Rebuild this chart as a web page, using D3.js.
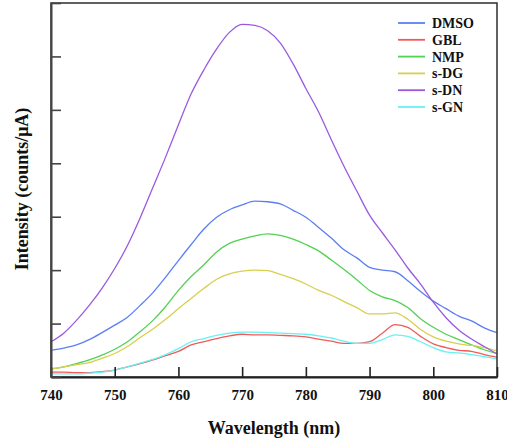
<!DOCTYPE html>
<html>
<head>
<meta charset="utf-8">
<script src="https://cdn.jsdelivr.net/npm/d3@7"></script>
<style>
  html, body { margin: 0; padding: 0; background: #fff; }
  svg { display: block; }
  svg text { font-family: "Liberation Serif", "Times New Roman", Times, "DejaVu Serif", serif; font-weight: bold; fill: #111; }
</style>
</head>
<body>
<svg id="chart" width="507" height="440"></svg>
<script>
// Emission spectra, wavelength grid in nm
const wavelengths = d3.range(740, 811, 2);

const seriesNames = ["DMSO", "GBL", "NMP", "s-DG", "s-DN", "s-GN"];
const seriesColors = ["#5b7ff2", "#f25a5a", "#52d152", "#d6d04e", "#9a5adf", "#66f2f2"];

const dmso = [0.50, 0.54, 0.60, 0.70, 0.83, 0.97, 1.12, 1.34, 1.58, 1.87, 2.18, 2.48, 2.77, 2.99, 3.13, 3.22, 3.29, 3.28,
              3.24, 3.12, 2.99, 2.80, 2.60, 2.38, 2.23, 2.05, 2.00, 1.97, 1.80, 1.60, 1.42, 1.28, 1.14, 1.05, 0.92, 0.83];
const gbl  = [0.09, 0.09, 0.08, 0.08, 0.10, 0.13, 0.19, 0.25, 0.32, 0.40, 0.48, 0.60, 0.66, 0.72, 0.77, 0.80, 0.79, 0.79,
              0.78, 0.77, 0.75, 0.71, 0.67, 0.63, 0.63, 0.66, 0.82, 0.98, 0.93, 0.76, 0.62, 0.55, 0.50, 0.48, 0.42, 0.37];
const nmp  = [0.15, 0.19, 0.25, 0.32, 0.41, 0.52, 0.66, 0.85, 1.06, 1.32, 1.62, 1.88, 2.10, 2.34, 2.50, 2.58, 2.64, 2.68,
              2.65, 2.58, 2.48, 2.36, 2.19, 2.01, 1.82, 1.62, 1.50, 1.43, 1.30, 1.09, 0.93, 0.80, 0.70, 0.60, 0.51, 0.44];
const sDG  = [0.15, 0.19, 0.23, 0.27, 0.35, 0.44, 0.57, 0.74, 0.90, 1.08, 1.28, 1.47, 1.66, 1.83, 1.93, 1.98, 2.00, 1.99,
              1.92, 1.84, 1.74, 1.62, 1.53, 1.41, 1.30, 1.18, 1.18, 1.20, 1.08, 0.89, 0.75, 0.67, 0.62, 0.59, 0.55, 0.49];
const sDN  = [0.66, 0.82, 1.06, 1.34, 1.66, 2.03, 2.46, 2.98, 3.55, 4.12, 4.72, 5.30, 5.75, 6.14, 6.45, 6.60, 6.58, 6.48,
              6.25, 5.86, 5.40, 4.96, 4.44, 3.94, 3.48, 3.03, 2.70, 2.38, 2.04, 1.74, 1.40, 1.11, 0.88, 0.71, 0.57, 0.43];
const sGN  = [0.06, 0.06, 0.06, 0.07, 0.09, 0.13, 0.19, 0.26, 0.33, 0.42, 0.53, 0.66, 0.72, 0.78, 0.82, 0.84, 0.84, 0.83,
              0.82, 0.81, 0.80, 0.77, 0.73, 0.67, 0.63, 0.63, 0.70, 0.79, 0.76, 0.66, 0.55, 0.47, 0.45, 0.42, 0.38, 0.34];

const seriesValues = [dmso, gbl, nmp, sDG, sDN, sGN];

const xTicks = [740, 750, 760, 770, 780, 790, 800, 810];
const yTicks = [0, 1, 2, 3, 4, 5, 6, 7];

const margin = { left: 51, right: 10, top: 3, bottom: 63 };
const W = 507, H = 440;
const svg = d3.select("#chart");

const x = d3.scaleLinear().domain([740, 810]).range([margin.left, W - margin.right]);
const y = d3.scaleLinear().domain([0, 7]).range([H - margin.bottom, margin.top]);

// Curves
const line = d3.line()
  .x((d, i) => x(wavelengths[i]))
  .y(d => y(d))
  .curve(d3.curveMonotoneX);

const plot = svg.append("g");
seriesValues.forEach((vals, k) => {
  plot.append("path")
    .attr("d", line(vals))
    .attr("fill", "none")
    .attr("stroke", seriesColors[k])
    .attr("stroke-width", 1.3);
});

// Frame around the plot area
svg.append("rect")
  .attr("x", x.range()[0])
  .attr("y", y.range()[1])
  .attr("width", x.range()[1] - x.range()[0])
  .attr("height", y.range()[0] - y.range()[1])
  .attr("fill", "none")
  .attr("stroke", "#3a3a3a")
  .attr("stroke-width", 1.6);

// Bottom axis with inward ticks
const xAxis = svg.append("g")
  .attr("transform", `translate(0,${y.range()[0]})`)
  .call(d3.axisBottom(x).tickValues(xTicks).tickSizeInner(-10).tickSizeOuter(0).tickPadding(12)
    .tickFormat(d3.format("d")));
xAxis.attr("font-family", null).attr("font-size", null);
xAxis.select(".domain").attr("stroke", "#222").attr("stroke-width", 2);
xAxis.selectAll(".tick line").attr("stroke", "#222").attr("stroke-width", 1.6);
xAxis.selectAll(".tick text")
  .attr("font-size", 15)
  .attr("fill", "#111");

// Left axis with inward ticks, no labels
const yAxis = svg.append("g")
  .attr("transform", `translate(${x.range()[0]},0)`)
  .call(d3.axisLeft(y).tickValues(yTicks).tickSizeInner(-10).tickSizeOuter(0).tickFormat(""));
yAxis.select(".domain").attr("stroke", "#444").attr("stroke-width", 2);
yAxis.selectAll(".tick line").attr("stroke", "#444").attr("stroke-width", 1.6);

// Axis titles
svg.append("text")
  .attr("x", (x.range()[0] + x.range()[1]) / 2)
  .attr("y", 434)
  .attr("text-anchor", "middle")
  .attr("font-size", 18)
  .text("Wavelength (nm)");

svg.append("text")
  .attr("transform", "translate(28,189) rotate(-90)")
  .attr("text-anchor", "middle")
  .attr("font-size", 18)
  .text("Intensity (counts/\u03BCA)");

// Legend
const legend = svg.append("g").attr("transform", "translate(398,23)");
seriesNames.forEach((name, k) => {
  const g = legend.append("g").attr("transform", `translate(0,${k * 16.8})`);
  g.append("line")
    .attr("x1", 0).attr("x2", 27)
    .attr("y1", 0).attr("y2", 0)
    .attr("stroke", seriesColors[k])
    .attr("stroke-width", 1.8);
  g.append("text")
    .attr("x", 34).attr("y", 5)
    .attr("font-size", 14)
    .text(name);
});
</script>
</body>
</html>
